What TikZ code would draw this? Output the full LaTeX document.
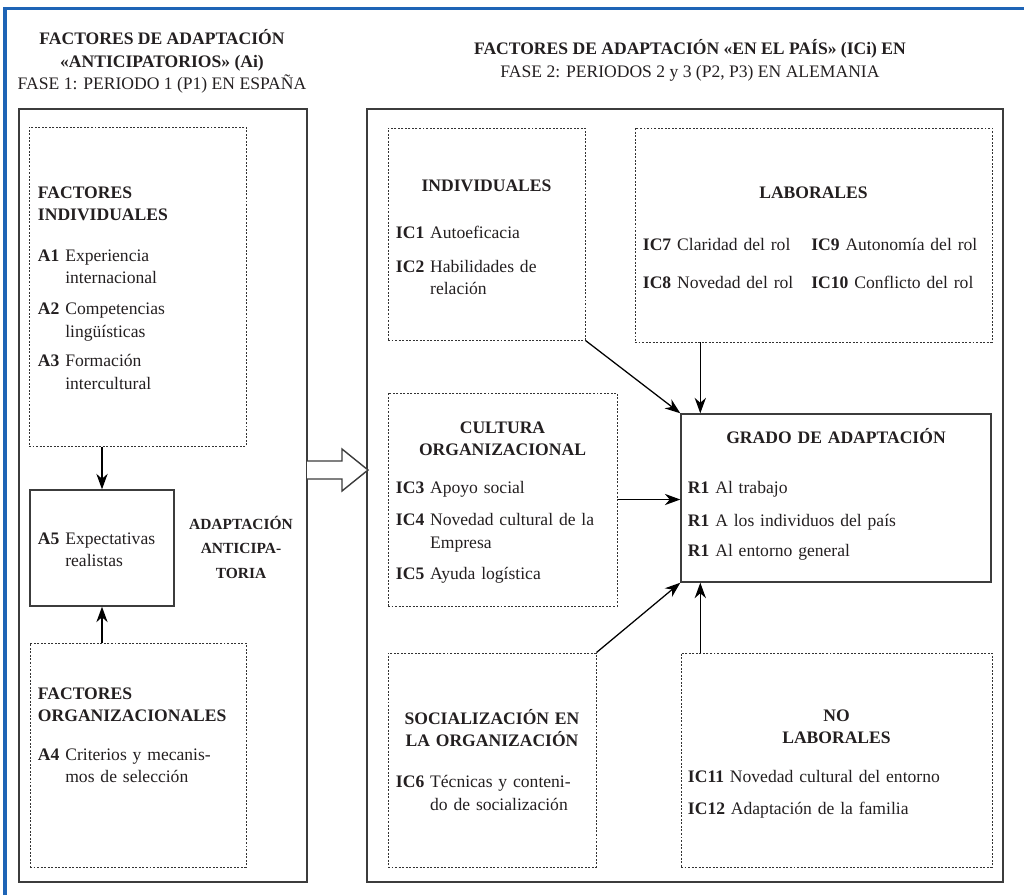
\documentclass[tikz,border=0pt]{standalone}
\usepackage{fontspec}
\setmainfont{Liberation Serif}
\usetikzlibrary{arrows.meta,calc,fit,positioning}

\definecolor{framebl}{RGB}{30,100,182}
\definecolor{boxln}{RGB}{60,60,60}
\definecolor{txtc}{RGB}{35,31,32}

\setlength{\parindent}{0pt}
\newcommand{\hd}[1]{{\noindent\strut\bfseries #1\par}}
\newcommand{\chd}[1]{{\centering\noindent\strut\bfseries #1\par}}
\newcommand{\itm}[2]{\setbox0=\hbox{\strut\bfseries #1\ }\hangindent=\wd0 \hangafter=1 \noindent\box0 #2\par}

\begin{document}
\begin{tikzpicture}[x=0.025cm, y=-0.025cm,
    >={Stealth[length=11pt,width=8pt,inset=3.5pt]},
    font=\fontsize{12.5}{16}\selectfont, text=txtc,
    dotbox/.style={draw=black!80, line width=0.7pt, dash pattern=on 1.4pt off 1.1pt, inner sep=0pt},
    solbox/.style={draw=boxln, line width=1pt, inner sep=0pt},
    txt/.style={inner sep=0pt, anchor=north, align=left, text width=#1},
    arr/.style={->, line width=0.9pt, black}]
\useasboundingbox (0,0) rectangle (1024,895);
\draw[framebl, line width=2.4pt] (5,895) -- (5,8.5) -- (1024,8.5);

\node[anchor=north, align=center, inner sep=0pt] (hdl) at (162,28.5) {\strut\textbf{FACTORES DE ADAPTACIÓN}\\\textbf{«ANTICIPATORIOS» (Ai)}\\FASE 1: PERIODO 1 (P1) EN ESPAÑA};
\node[anchor=north, align=center, inner sep=0pt] (hdr) at (690,38.5) {\strut\textbf{FACTORES DE ADAPTACIÓN «EN EL PAÍS» (ICi) EN}\\FASE 2: PERIODOS 2 y 3 (P2, P3) EN ALEMANIA};

\node[solbox, fit={(19,109) (307,882)}] (lbox) {};
\node[solbox, fit={(367,109) (1003,882)}] (rbox) {};

\node[dotbox, fit={(29,127) (246,446)}] (find) {};
\node[txt=5cm] (find-t) at (138,182) {\hd{FACTORES\\INDIVIDUALES}\vspace{13pt}
  \itm{A1}{Experiencia\newline internacional}\vspace{6pt}
  \itm{A2}{Competencias\newline lingüísticas}\vspace{5pt}
  \itm{A3}{Formación\newline intercultural}};

\node[solbox, fit={(30,490) (174,606)}] (a5) {};
\node[txt=3.35cm] (a5-t) at (105,528) {\itm{A5}{Expectativas\newline realistas}};

\node[dotbox, fit={(30,643) (246,867)}] (forg) {};
\node[txt=5.1cm] (forg-t) at (140,683) {\hd{FACTORES\\ORGANIZACIONALES}\vspace{11.7pt}
  \itm{A4}{Criterios y mecanis-\newline mos de selección}};

\node[anchor=north, align=center, inner sep=0pt, font=\fontsize{11}{17.4}\selectfont\bfseries] (antic) at (241,512) {\strut ADAPTACIÓN\\ANTICIPA-\\TORIA};

\node[dotbox, fit={(388,128) (585,340)}] (ind) {};
\node[txt=4.525cm] (ind-t) at (486.5,175) {\chd{INDIVIDUALES}\vspace{17.4pt}
  \itm{IC1}{Autoeficacia}\vspace{8.2pt}
  \itm{IC2}{Habilidades de\newline relación}};

\node[dotbox, fit={(635,128) (992,342)}] (lab) {};
\node[txt=8.525cm] (lab-t) at (813.5,182) {\chd{LABORALES}\vspace{21pt}
  \noindent\begin{tabular}[t]{@{}l@{\hspace{0.45cm}}l@{}}
  \textbf{IC7} Claridad del rol & \textbf{IC9} Autonomía del rol\\[11.4pt]
  \textbf{IC8} Novedad del rol & \textbf{IC10} Conflicto del rol
  \end{tabular}};

\node[dotbox, fit={(388,393) (617,606)}] (cult) {};
\node[txt=5.325cm] (cult-t) at (502.5,417) {\chd{CULTURA\\ORGANIZACIONAL}\vspace{11pt}
  \itm{IC3}{Apoyo social}\vspace{6.8pt}
  \itm{IC4}{Novedad cultural de la\newline Empresa}\vspace{6pt}
  \itm{IC5}{Ayuda logística}};

\node[solbox, fit={(681,414) (991,582)}] (grado) {};
\node[txt=7.4cm] (grado-t) at (836,427) {\chd{GRADO DE ADAPTACIÓN}\vspace{19.6pt}
  \itm{R1}{Al trabajo}\vspace{7.5pt}
  \itm{R1}{A los individuos del país}\vspace{5.3pt}
  \itm{R1}{Al entorno general}};

\node[dotbox, fit={(388,653) (596,867)}] (soc) {};
\node[txt=4.8cm] (soc-t) at (492,708) {\chd{SOCIALIZACIÓN EN\\LA ORGANIZACIÓN}\vspace{13.2pt}
  \itm{IC6}{Técnicas y conteni-\newline do de socialización}};

\node[dotbox, fit={(681,653) (992,867)}] (nolab) {};
\node[txt=7.425cm] (nolab-t) at (836.5,705) {\chd{NO\\LABORALES}\vspace{11.7pt}
  \itm{IC11}{Novedad cultural del entorno}\vspace{6.8pt}
  \itm{IC12}{Adaptación de la familia}};

\draw[arr] (a5.north |- find.south) -- (a5.north);
\draw[arr] (a5.south |- forg.north) -- (a5.south);
\coordinate (ga) at ($(grado.north west)+(20,0)$);
\coordinate (gb) at ($(grado.south west)+(20,0)$);
\draw[arr] (ind.south east) -- (grado.north west);
\draw[arr] (lab.south -| ga) -- (ga);
\draw[arr] (cult.east) -- (cult.east -| grado.west);
\draw[arr] (soc.north east) -- (grado.south west);
\draw[arr] (nolab.north -| gb) -- (gb);

\coordinate (ha) at (307,470);
\coordinate (hb) at (368,470);
\draw[boxln, line width=1pt, fill=white, line join=miter] ($(ha)+(0,-9)$) -- ($(ha)+(35,-9)$) -- ($(ha)+(35,-21)$) -- (hb) -- ($(ha)+(35,21)$) -- ($(ha)+(35,9)$) -- ($(ha)+(0,9)$);
\end{tikzpicture}
\end{document}
